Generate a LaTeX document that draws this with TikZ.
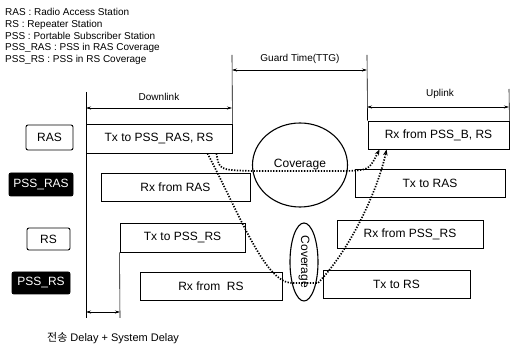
\documentclass[tikz,border=0pt]{standalone}
\usepackage{fontspec}
\setmainfont{Liberation Sans}
\newfontfamily\kofont{Noto Sans CJK KR}
\usetikzlibrary{arrows.meta,shapes.geometric}

\begin{document}
\begin{tikzpicture}[x=1pt, y=-1pt,
  slot/.style={draw, line width=0.9pt, minimum height=28pt, inner sep=0pt, font=\fontsize{12}{14}\selectfont},
  tag/.style={draw, line width=0.9pt, rounded corners=2pt, inner sep=0pt, font=\fontsize{12}{14}\selectfont},
  tagdark/.style={tag, fill=black, text=white},
  cov/.style={draw, ellipse, line width=1.1pt, inner sep=0pt, font=\fontsize{12}{14}\selectfont},
  guide/.style={line width=0.6pt},
  dim/.style={{Stealth[length=5pt,width=3pt]}-{Stealth[length=5pt,width=3pt]}, line width=0.6pt},
  sig/.style={line width=1.7pt, dash pattern=on 1.3pt off 1.5pt, -{Stealth[length=6pt,width=4.5pt]}},
  lbl/.style={font=\fontsize{10}{12}\selectfont, inner sep=0pt}
]
\useasboundingbox (0,0) rectangle (515,347);

% legend
\node[lbl, anchor=north west, align=left, font=\fontsize{10}{11.8}\selectfont] (legend) at (5,8)
  {RAS : Radio Access Station\\RS : Repeater Station\\PSS : Portable Subscriber Station\\
   PSS\_RAS : PSS in RAS Coverage\\PSS\_RS : PSS in RS Coverage};

% station tags
\node[tag, minimum width=47pt, minimum height=25pt] (tras) at (49.5,137.5) {RAS};
\node[tagdark, minimum width=64pt, minimum height=23pt] (tpssras) at (41,184.5) {PSS\_RAS};
\node[tag, minimum width=43pt, minimum height=22pt] (trs) at (48.5,239) {RS};
\node[tagdark, minimum width=58pt, minimum height=22pt] (tpssrs) at (41,283) {PSS\_RS};

% downlink slots
\node[slot, minimum width=146pt, minimum height=29pt] (txras) at (159,138.5) {Tx to PSS\_RAS, RS};
\node[slot, minimum width=149pt] (rxpras) at (175.5,187) {Rx from RAS};
\node[slot, minimum width=125pt, minimum height=29pt] (txrs) at (182.5,237.5) {Tx to PSS\_RS};
\node[slot, minimum width=142pt] (rxprs) at (211,286) {Rx from\ \ RS};

% uplink slots
\node[slot, minimum width=141pt] (rxras) at (438.5,135) {Rx from PSS\_B, RS};
\node[slot, minimum width=150pt] (txpras) at (430,183) {Tx to RAS};
\node[slot, minimum width=146pt] (rxrs) at (410,234) {Rx from PSS\_RS};
\node[slot, minimum width=147pt] (txprs) at (396.5,284) {Tx to RS};

% coverage areas
\node[cov, minimum width=95pt, minimum height=84pt] (covras) at (300,165) {Coverage};
\node[cov, rotate=-90, minimum width=78pt, minimum height=28pt] (covrs) at (304,262) {Coverage};

% time guides
\coordinate (dltop) at (86,92);
\coordinate (dlbot) at (86,318);
\coordinate (gtleft) at (232,55);
\coordinate (gtright) at (367,55);
\coordinate (ultop) at (509,89);
\coordinate (dybot) at (120,318);
\draw[guide] (dltop) -- (dlbot);
\draw[guide] (gtleft) -- (txras.north east);
\draw[guide] (gtright) -- (rxras.north west);
\draw[guide] (ultop) -- (rxras.north east);
\draw[guide] (txrs.south west) -- (dybot);

% durations
\coordinate (dlA) at (86,108);
\coordinate (dlB) at (232,108);
\coordinate (gtA) at (232,70);
\coordinate (gtB) at (367,70);
\coordinate (ulA) at (367,107);
\coordinate (ulB) at (509,107);
\coordinate (dyA) at (86,312);
\coordinate (dyB) at (120,312);
\draw[dim] (dlA) -- (dlB);
\draw[dim] (gtA) -- (gtB);
\draw[dim] (ulA) -- (ulB);
\draw[dim] (dyA) -- (dyB);
\node[lbl] (dllabel) at (159,97) {Downlink};
\node[lbl] (gtlabel) at (300,59) {Guard Time(TTG)};
\node[lbl] (ullabel) at (440,94) {Uplink};
\node[lbl, anchor=west, font=\fontsize{11}{13}\selectfont] (dylabel) at (47,338) {{\kofont 전송} Delay + System Delay};

% signal paths
\draw[sig] ([xshift=-16pt]txras.south east) .. controls (219,170) .. (253,171)
  -- (347,171) .. controls (369,170) .. ([xshift=12pt]rxras.south west);
\draw[sig] ([xshift=-25pt]txras.south east) .. controls (240,215) and (265,283) .. (292,283)
  -- (318,283) .. controls (350,250) and (378,190) .. ([xshift=19pt]rxras.south west);
\end{tikzpicture}
\end{document}
